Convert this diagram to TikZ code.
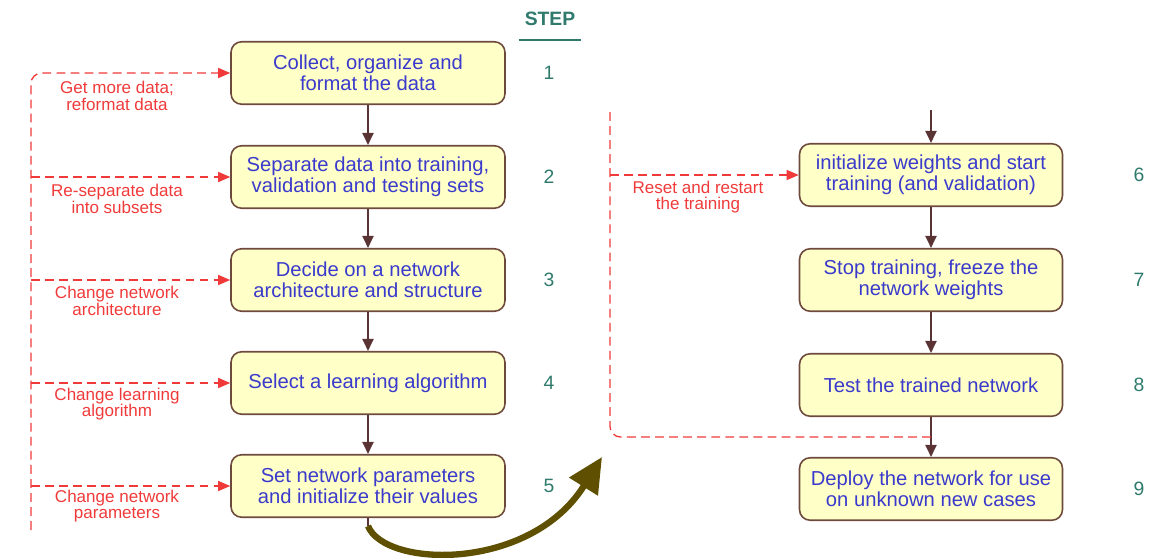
\documentclass[tikz,border=0pt]{standalone}
\usepackage{fontspec}
\setmainfont{Liberation Sans}
\usepackage{xcolor}
\usetikzlibrary{arrows.meta,positioning,calc}
\definecolor{boxfill}{HTML}{FFFFC8}
\definecolor{boxline}{HTML}{6E4A3C}
\definecolor{flowbrown}{HTML}{5A3434}
\definecolor{txtblue}{HTML}{3A3ACC}
\definecolor{fbred}{HTML}{F03A3A}
\definecolor{stepteal}{HTML}{2F7A6C}
\definecolor{olive}{HTML}{5E5000}
\begin{document}
\begin{tikzpicture}[x=0.02cm,y=-0.02cm,
  stepbox/.style={rectangle,rounded corners=6pt,draw=boxline,line width=0.9pt,fill=boxfill,
    minimum height=1.25cm,align=center,text=txtblue,font=\fontsize{11.5}{12.2}\selectfont},
  lbox/.style={stepbox,minimum width=5.48cm},
  rbox/.style={stepbox,minimum width=5.26cm},
  flow/.style={draw=flowbrown,line width=1.1pt,-{Triangle[length=2.4mm,width=2.2mm]}},
  fb/.style={draw=fbred,line width=0.75pt,dash pattern=on 5pt off 3pt},
  fbtip/.style={fb,-{Triangle[length=2.4mm,width=2mm]}},
  lbl/.style={align=center,text=fbred,inner sep=0pt,font=\fontsize{9.7}{9.3}\selectfont},
  num/.style={text=stepteal,font=\fontsize{11}{12}\selectfont},
  bigarrow/.style={draw=olive,line width=3.6pt,-{Triangle[length=7mm,width=6.5mm]}}
]
\useasboundingbox (0,0) rectangle (1150,558);
% left column
\node[lbox] (s1) at (368,73) {Collect, organize and\\format the data};
\node[lbox] (s2) at (368,177) {Separate data into training,\\validation and testing sets};
\node[lbox] (s3) at (368,280) {Decide on a network\\architecture and structure};
\node[lbox] (s4) at (368,383) {Select a learning algorithm};
\node[lbox] (s5) at (368,486) {Set network parameters\\and initialize their values};
% right column
\node[rbox] (s6) at (931,175) {initialize weights and start\\training (and validation)};
\node[rbox] (s7) at (931,280) {Stop training, freeze the\\network weights};
\node[rbox] (s8) at (931,385) {Test the trained network};
\node[rbox] (s9) at (931,489) {Deploy the network for use\\on unknown new cases};
% step numbers
\node[text=stepteal,font=\bfseries\fontsize{11}{12}\selectfont] (st) at (550,19) {STEP};
\draw[stepteal,line width=1.2pt] ($(st.south west)+(0,8)$) -- ($(st.south east)+(0,8)$);
\coordinate (lcol) at (549,0);
\coordinate (rcol) at (1139,0);
\foreach \i/\c in {1/lcol,2/lcol,3/lcol,4/lcol,5/lcol,6/rcol,7/rcol,8/rcol,9/rcol}
  \node[num] (n\i) at (\c |- s\i) {\i};
% main flow
\foreach \x/\y in {s1/s2,s2/s3,s3/s4,s4/s5,s6/s7,s7/s8,s8/s9} \draw[flow] (\x)--(\y);
\coordinate (in6) at (931,110);
\draw[flow] (in6) -- (s6);
% feedback loops, left
\coordinate (lb) at (31,530);
\draw[fbtip,rounded corners=6pt] (lb) |- (s1.west);
\foreach \k in {2,3,4,5} \draw[fbtip] (lb |- s\k.west) -- (s\k.west);
\node[lbl] (l1) at (117,96) {Get more data;\\reformat data};
\node[lbl] (l2) at (117,199) {Re-separate data\\into subsets};
\node[lbl] (l3) at (117,301) {Change network\\architecture};
\node[lbl] (l4) at (117,404) {Change learning\\algorithm};
\node[lbl] (l5) at (117,506) {Change network\\parameters};
% feedback loop, right
\coordinate (rt) at (610,112);
\coordinate (rj) at ($(s8.south)!0.5!(s9.north)$);
\draw[fb,rounded corners=6pt] (rt) |- (rj);
\draw[fbtip] (rt |- s6.west) -- (s6.west);
\node[lbl] (l6) at (698,197) {Reset and restart\\the training};
% jump to second column
\coordinate (tail) at (368,526);
\coordinate (turn) at (602,457);
\draw[flowbrown,line width=1.1pt] (s5.south) -- (tail);
\draw[bigarrow] (tail) .. controls (385,568) and (530,572) .. (turn);
\end{tikzpicture}
\end{document}
